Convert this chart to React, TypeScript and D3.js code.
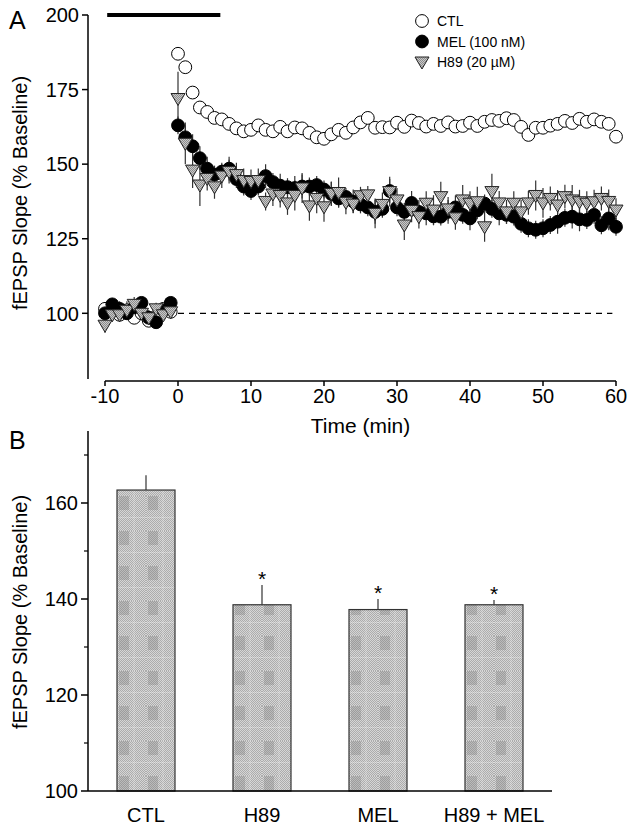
import React from "react";
import * as d3 from "d3";

// ---------- Panel A data ----------
const baselineMinutes = d3.range(-10, 0);
const postMinutes = d3.range(0, 61);
const minutes = [...baselineMinutes, ...postMinutes];

const ctlMean = [
  101.5, 100.5, 99.5, 101, 98.5, 100, 97.5, 99, 101.5, 100.5,
  187, 182.5, 174, 169, 167.5, 165.5, 165, 163.5, 162, 161,
  161.5, 163, 161.5, 161, 162.5, 161, 162.3, 162, 160.5, 159,
  158.5, 160, 161.5, 160.5, 162.3, 164, 165.5, 162.2, 162.4, 162.3,
  163.9, 162.5, 164.6, 163.8, 162.6, 163.5, 162.8, 164, 162.6, 162.8,
  163.9, 162.8, 164.2, 164.8, 164.5, 165.4, 164.8, 162.5, 159.8, 162.2,
  162.2, 162.9, 163.5, 164.5, 163.8, 165.2, 164.2, 165, 164.2, 163.5,
  159.2,
];

const melMean = [
  100, 103, 101.5, 100, 102, 103.5, 98.5, 97, 101, 103.5,
  163, 159, 156, 152, 148.5, 146.5, 147.5, 148.5, 145, 142.5,
  141, 142.5, 146, 144, 142.8, 142.3, 142, 142.5, 142.5, 143,
  141.5, 140, 138.5, 139, 137.5, 136.5, 135.5, 134, 135, 141,
  135.5, 134, 137, 134, 133.5, 132.5, 132.4, 134, 135.5, 133,
  131.8, 134.5, 136.8, 135, 133.5, 133, 132.4, 130, 128.5, 128,
  128.5, 129.6, 130.7, 132, 132.4, 131.5, 131.3, 133, 129.5, 131.8,
  129,
];
const melSem = [
  2, 2, 2.5, 2, 2, 2, 2.5, 2, 2, 2,
  3, 4, 4, 4, 4, 3, 3, 4, 3, 3,
  3, 3, 4, 3, 4, 3, 4, 4, 3, 3,
  3, 4, 3, 3, 4, 3, 3, 4, 3, 4,
  3, 3, 4, 4, 4, 3, 3, 4, 4, 3,
  4, 3, 3, 3, 4, 3, 3, 3, 3, 3,
  3, 3, 4, 3, 4, 4, 3, 3, 3, 4,
  3,
];

const h89Mean = [
  96, 99.5, 99.5, 101, 103, 100, 98.5, 101.5, 99.5, 100.5,
  172, 157, 148, 143, 145.2, 142.4, 146, 147.5, 146.5, 144.5,
  144.2, 144.5, 137.5, 140, 139.5, 137, 139.5, 142, 136, 138.5,
  135.7, 140.2, 140.5, 137.2, 136.6, 139.4, 139.7, 133.5, 136.5, 140.8,
  138, 129.6, 134.5, 132.4, 136.9, 134.6, 139.1, 135, 132, 138,
  136.9, 137.4, 129, 140.8, 137, 134, 136.9, 134, 137, 139.5,
  137, 138.5, 136.3, 139.1, 138, 137.4, 136.9, 137.4, 138.5, 137.5,
  134.6,
];
const h89Sem = [
  2.5, 2, 2, 3, 2.5, 2, 2.5, 2, 2, 2,
  9, 7, 6, 7, 4, 4, 4, 4, 4, 4,
  4, 4, 3, 4, 4, 4, 5, 5, 5, 5,
  5, 4, 5, 4, 3, 3, 3, 5, 4, 5,
  4, 5, 4, 4, 4, 5, 5, 4, 4, 5,
  4, 5, 5, 6, 4, 4, 4, 4, 4, 5,
  5, 4, 5, 4, 5, 4, 4, 4, 4, 4,
  4,
];

const xTicksA = [-10, 0, 10, 20, 30, 40, 50, 60];
const yTicksA = [100, 125, 150, 175, 200];
const drugBar = [-9.7, 5.8];
const dashedRange = [0, 59.5];
const legendItems = ["CTL", "MEL (100 nM)", "H89 (20 \u00b5M)"];

// ---------- Panel B data ----------
const groups = ["CTL", "H89", "MEL", "H89 + MEL"];
const barMeans = [162.7, 138.8, 137.8, 138.8];
const barSems = [3.1, 4.1, 2.2, 1.0];
const barSig = [false, true, true, true];
const yMajorB = [100, 120, 140, 160];
const yMinorB = [110, 130, 150, 170];

const FONT = "'Liberation Sans', Arial, Helvetica, sans-serif";

function triPath(cx: number, cy: number) {
  return `M${cx - 7},${cy - 5}L${cx + 7},${cy - 5}L${cx},${cy + 7}Z`;
}

export default function App() {
  const xA = d3.scaleLinear().domain([-10, 60]).range([105, 616]);
  const yA = d3.scaleLinear().domain([100, 200]).range([313.3, 15]);
  const axisXA = 88;
  const axisYA = 381;

  const xB = d3
    .scaleBand<string>()
    .domain(groups)
    .range([88, 552])
    .paddingInner(0.5)
    .paddingOuter(0.25);
  const yB = d3.scaleLinear().domain([100, 175]).range([791, 431]);
  const bw = xB.bandwidth();

  return (
    <svg
      width={634}
      height={829}
      style={{ position: "absolute", left: 0, top: 0, background: "#fff" }}
      fontFamily={FONT}
    >
      <defs>
        <pattern id="fine" width={2} height={2} patternUnits="userSpaceOnUse">
          <rect width={2} height={2} fill="#d6d6d6" />
          <rect width={1} height={1} fill="#acacac" />
          <rect x={1} y={1} width={1} height={1} fill="#acacac" />
        </pattern>
        <pattern id="trifill" width={2} height={2} patternUnits="userSpaceOnUse">
          <rect width={2} height={2} fill="#c8c8c8" />
          <rect width={1} height={1} fill="#8c8c8c" />
          <rect x={1} y={1} width={1} height={1} fill="#8c8c8c" />
        </pattern>
        {groups.map((g, i) => (
          <pattern
            key={g}
            id={`barpat${i}`}
            x={xB(g)!}
            y={496}
            width={bw / 2}
            height={35}
            patternUnits="userSpaceOnUse"
          >
            <rect width={bw / 2} height={35} fill="url(#fine)" />
            <rect x={2} y={0} width={10} height={14} fill="#6a6a6a" opacity={0.25} />
            <rect x={bw / 4 + 2} y={0} width={1} height={35} fill="#ffffff" opacity={0.25} />
            <rect x={0} y={21} width={bw / 2} height={1} fill="#ffffff" opacity={0.25} />
          </pattern>
        ))}
      </defs>

      {/* ================= Panel A ================= */}
      <text x={9} y={29} fontSize={25}>A</text>

      {/* drug application bar */}
      <line
        x1={xA(drugBar[0])}
        x2={xA(drugBar[1])}
        y1={yA(200)}
        y2={yA(200)}
        stroke="#000"
        strokeWidth={4}
      />

      {/* dashed baseline */}
      <line
        x1={xA(dashedRange[0])}
        x2={xA(dashedRange[1])}
        y1={yA(100)}
        y2={yA(100)}
        stroke="#000"
        strokeWidth={1.2}
        strokeDasharray="6,5"
      />

      {/* y axis A */}
      <line x1={axisXA} x2={axisXA} y1={yA(200)} y2={yA(78)} stroke="#000" strokeWidth={1.5} />
      {yTicksA.map((t) => (
        <g key={t}>
          <line x1={axisXA - 6} x2={axisXA} y1={yA(t)} y2={yA(t)} stroke="#000" strokeWidth={1.5} />
          <text x={axisXA - 9} y={yA(t)} dy="0.36em" textAnchor="end" fontSize={20}>
            {t}
          </text>
        </g>
      ))}
      <text
        transform={`translate(27,193) rotate(-90)`}
        textAnchor="middle"
        fontSize={20}
      >
        fEPSP Slope (% Baseline)
      </text>

      {/* x axis A */}
      <line x1={xA(-10)} x2={xA(60)} y1={axisYA} y2={axisYA} stroke="#000" strokeWidth={1.5} />
      {xTicksA.map((t) => (
        <g key={t}>
          <line x1={xA(t)} x2={xA(t)} y1={axisYA} y2={axisYA + 5} stroke="#000" strokeWidth={1.5} />
          <text x={xA(t)} y={403} textAnchor="middle" fontSize={20}>
            {t}
          </text>
        </g>
      ))}
      <text x={(xA(-10) + xA(60)) / 2} y={433} textAnchor="middle" fontSize={21}>
        Time (min)
      </text>

      {/* error bars */}
      {minutes.map((m, i) => (
        <line
          key={`me${i}`}
          x1={xA(m)}
          x2={xA(m)}
          y1={yA(melMean[i] - melSem[i])}
          y2={yA(melMean[i] + melSem[i])}
          stroke="#333"
          strokeWidth={1.2}
        />
      ))}
      {minutes.map((m, i) => (
        <line
          key={`he${i}`}
          x1={xA(m)}
          x2={xA(m)}
          y1={yA(h89Mean[i] - h89Sem[i])}
          y2={yA(h89Mean[i] + h89Sem[i])}
          stroke="#333"
          strokeWidth={1.2}
        />
      ))}

      {/* CTL circles */}
      {minutes.map((m, i) => (
        <circle
          key={`c${i}`}
          cx={xA(m)}
          cy={yA(ctlMean[i])}
          r={6.4}
          fill="#fff"
          stroke="#000"
          strokeWidth={1}
        />
      ))}
      {/* MEL circles */}
      {minutes.map((m, i) => (
        <circle
          key={`m${i}`}
          cx={xA(m)}
          cy={yA(melMean[i])}
          r={6.4}
          fill="#000"
          stroke="#000"
          strokeWidth={1}
        />
      ))}
      {/* H89 triangles */}
      {minutes.map((m, i) => (
        <path
          key={`h${i}`}
          d={triPath(xA(m), yA(h89Mean[i]))}
          fill="url(#trifill)"
          stroke="#222"
          strokeWidth={1}
        />
      ))}

      {/* legend */}
      {legendItems.map((label, i) => {
        const cy = 21 + i * 20.5;
        const cx = 422;
        return (
          <g key={label}>
            {i === 0 && <circle cx={cx} cy={cy} r={6.4} fill="#fff" stroke="#000" />}
            {i === 1 && <circle cx={cx} cy={cy} r={6.4} fill="#000" stroke="#000" />}
            {i === 2 && (
              <path d={triPath(cx, cy)} fill="url(#trifill)" stroke="#222" />
            )}
            <text x={437} y={cy} dy="0.36em" fontSize={14}>
              {label}
            </text>
          </g>
        );
      })}

      {/* ================= Panel B ================= */}
      <text x={9} y={449} fontSize={25}>B</text>

      {groups.map((g, i) => {
        const x = xB(g)!;
        const cx = x + bw / 2;
        const top = yB(barMeans[i]);
        const errTop = yB(barMeans[i] + barSems[i]);
        return (
          <g key={g}>
            <line x1={cx} x2={cx} y1={top} y2={errTop} stroke="#333" strokeWidth={1.2} />
            <rect
              x={x}
              y={top}
              width={bw}
              height={yB(100) - top}
              fill={`url(#barpat${i})`}
              stroke="#333"
              strokeWidth={1.2}
            />
            {barSig[i] && (
              <text x={cx} y={errTop + 1} textAnchor="middle" fontSize={21}>
                *
              </text>
            )}
            <text x={cx} y={822} textAnchor="middle" fontSize={20}>
              {g}
            </text>
          </g>
        );
      })}

      {/* y axis B */}
      <line x1={88} x2={88} y1={yB(175)} y2={yB(100)} stroke="#000" strokeWidth={1.5} />
      {yMajorB.map((t) => (
        <g key={t}>
          <line x1={81} x2={88} y1={yB(t)} y2={yB(t)} stroke="#000" strokeWidth={1.5} />
          <text x={78} y={yB(t)} dy="0.36em" textAnchor="end" fontSize={20}>
            {t}
          </text>
        </g>
      ))}
      {yMinorB.map((t) => (
        <line key={t} x1={84} x2={88} y1={yB(t)} y2={yB(t)} stroke="#000" strokeWidth={1.2} />
      ))}
      <text
        transform={`translate(27,612) rotate(-90)`}
        textAnchor="middle"
        fontSize={20}
      >
        fEPSP Slope (% Baseline)
      </text>

      {/* x axis B */}
      <line x1={88} x2={552} y1={yB(100)} y2={yB(100)} stroke="#000" strokeWidth={1.5} />
    </svg>
  );
}
